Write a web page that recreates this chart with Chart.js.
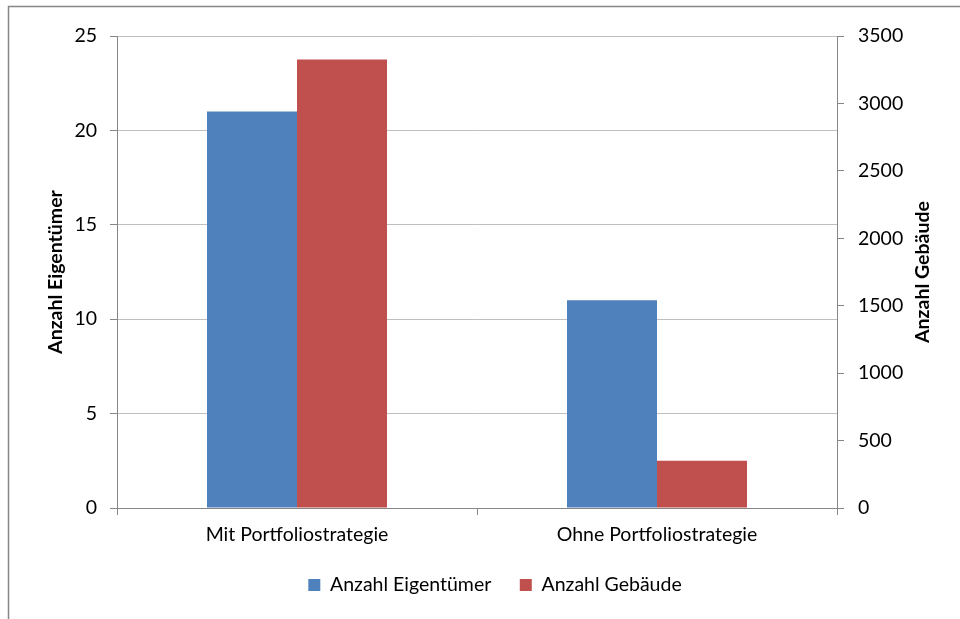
<!DOCTYPE html>
<html>
<head>
<meta charset="utf-8">
<script src="https://cdn.jsdelivr.net/npm/chart.js@4"></script>
<style>
    html, body { margin: 0; padding: 0; background: #fff; }
    #wrap { position: relative; width: 960px; height: 619px; }
</style>
</head>
<body>
<div id="wrap"><canvas id="chart"></canvas></div>
<script>
const categories = ["Mit Portfoliostrategie", "Ohne Portfoliostrategie"];
const eigentuemer = [21, 11];
const gebaeude = [3325, 350];
const leftTicks = [0, 5, 10, 15, 20, 25];
const rightTicks = [0, 500, 1000, 1500, 2000, 2500, 3000, 3500];

const axisGray = "#868686";
const gridGray = "#bfbfbf";
const fontFamily = "Lato, 'Open Sans', sans-serif";
const fontSize = 19.5;

Chart.defaults.font.family = fontFamily;
Chart.defaults.font.size = fontSize;
Chart.defaults.color = "#000";

// outer frame of the chart object + right axis title (reads bottom to top)
const framePlugin = {
    id: "frame",
    beforeDraw(chart) {
        const ctx = chart.ctx;
        ctx.save();
        ctx.fillStyle = "#fff";
        ctx.fillRect(0, 0, chart.width, chart.height);
        ctx.strokeStyle = axisGray;
        ctx.lineWidth = 1.5;
        ctx.strokeRect(8.5, 6.5, chart.width + 20, chart.height + 20);
        ctx.restore();
    },
    afterDraw(chart) {
        const ctx = chart.ctx;
        const area = chart.chartArea;
        ctx.save();
        ctx.translate(923, (area.top + area.bottom) / 2);
        ctx.rotate(-Math.PI / 2);
        ctx.font = "bold " + fontSize + "px " + fontFamily;
        ctx.fillStyle = "#000";
        ctx.textAlign = "center";
        ctx.textBaseline = "middle";
        ctx.fillText("Anzahl Gebäude", 0, 0);
        ctx.restore();
    }
};

new Chart(document.getElementById("chart"), {
    type: "bar",
    data: {
        labels: categories,
        datasets: [
            {
                label: "Anzahl Eigentümer",
                data: eigentuemer,
                backgroundColor: "#4f81bd",
                yAxisID: "y",
                categoryPercentage: 0.5,
                barPercentage: 1.0,
            },
            {
                label: "Anzahl Gebäude",
                data: gebaeude,
                backgroundColor: "#c0504d",
                yAxisID: "y2",
                categoryPercentage: 0.5,
                barPercentage: 1.0,
            }
        ]
    },
    options: {
        responsive: true,
        maintainAspectRatio: false,
        animation: false,
        layout: {
            padding: { left: 30, right: 0, top: 36, bottom: 14.25 }
        },
        plugins: {
            legend: {
                position: "bottom",
                labels: {
                    boxWidth: 12,
                    boxHeight: 12,
                    padding: 28.5,
                }
            },
            tooltip: { enabled: false },
        },
        scales: {
            x: {
                offset: true,
                grid: {
                    offset: true,
                    drawOnChartArea: false,
                    tickLength: 7,
                    color: axisGray,
                },
                border: { color: axisGray, width: 1 },
                ticks: { padding: 8 },
                afterFit(scale) { scale.height = 38.75; },
            },
            y: {
                position: "left",
                min: 0,
                max: 25,
                afterBuildTicks(scale) { scale.ticks = leftTicks.map(v => ({ value: v })); },
                grid: { color: gridGray, tickColor: axisGray, tickLength: 7 },
                border: { color: axisGray, width: 1 },
                ticks: { padding: 13, callback: v => String(v) },
                title: {
                    display: true,
                    text: "Anzahl Eigentümer",
                    font: { weight: "bold" },
                    padding: { top: 14.3, bottom: 0 },
                },
                afterFit(scale) { scale.width = 87; },
            },
            y2: {
                position: "right",
                min: 0,
                max: 3500,
                afterBuildTicks(scale) { scale.ticks = rightTicks.map(v => ({ value: v })); },
                grid: { drawOnChartArea: false, tickColor: axisGray, tickLength: 7 },
                border: { color: axisGray, width: 1 },
                ticks: { padding: 14, callback: v => String(v) },
                afterFit(scale) { scale.width = 123; },
            }
        }
    },
    plugins: [framePlugin]
});
</script>
</body>
</html>
